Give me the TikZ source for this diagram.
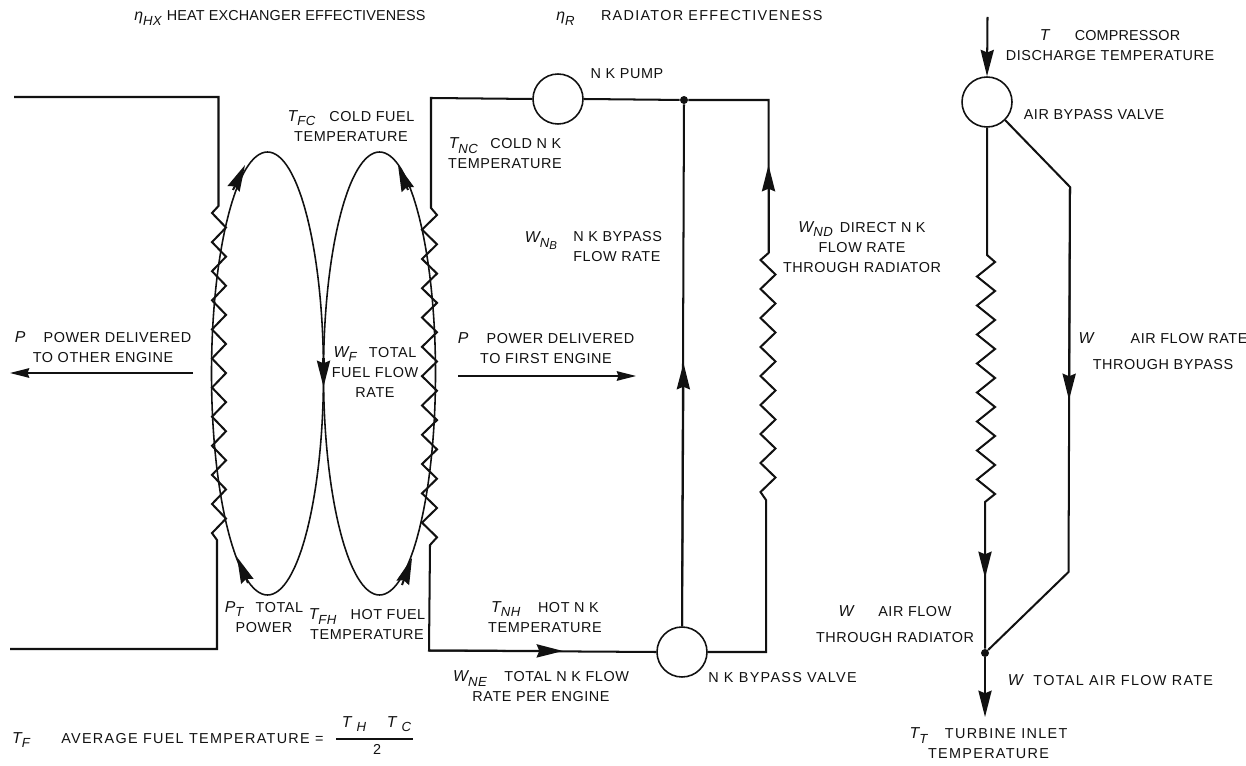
\documentclass[tikz,border=0pt]{standalone}
\usepackage{fontspec}
\setmainfont{Liberation Sans}[LetterSpace=4]
\usetikzlibrary{arrows.meta}
\newcommand{\labfont}{\fontsize{8.2}{11.4}\selectfont}
\newcommand{\symb}[2]{\textit{\fontsize{9}{11}\selectfont #1\raisebox{-0.5ex}{\fontsize{7.5}{8}\selectfont #2}}}
\definecolor{inkline}{HTML}{111111}

\begin{document}
\begin{tikzpicture}[
  x=0.02cm, y=-0.02cm,
  wire/.style={line width=1.15pt, draw=inkline, line join=miter},
  flow/.style={wire, -{Stealth[length=15pt, width=7.5pt, inset=1.5pt]}},
  power/.style={line width=0.7pt, draw=inkline, -{Stealth[length=11pt, width=5.5pt, inset=1pt]}},
  valve/.style={circle, draw=inkline, line width=0.9pt, minimum size=1cm, inner sep=0pt},
  junction/.style={circle, fill=inkline, minimum size=0.16cm, inner sep=0pt},
  lab/.style={inner sep=0pt, align=center, font=\labfont, text=inkline},
  widelab/.style={lab, font=\labfont\addfontfeature{LetterSpace=9}},
  narrowlab/.style={lab, font=\labfont\addfontfeature{LetterSpace=1}},
]
\useasboundingbox (0,0) rectangle (1246,766);

% Heat exchanger walls and coils
\coordinate (wallTL) at (14,97);
\coordinate (wallLT) at (218.5,97);
\coordinate (wallLB) at (217,649);
\coordinate (wallBL) at (10,649);
\coordinate (coilLT) at (218.5,206);
\coordinate (coilLB) at (217,540);
\draw[wire] (wallTL) -- (wallLT) -- (coilLT) -- ++(-6.5,7)
  \foreach \k in {1,...,11} { -- ++(14,14.55) -- ++(-14,14.55) }
  -- (coilLB) -- (wallLB) -- (wallBL);

% Fuel loops
\coordinate (loopL) at (267.5,373.5);
\coordinate (loopR) at (379.5,373.5);
\draw[wire, line width=0.9pt] (loopL) ellipse [x radius=56, y radius=221.5];
\draw[wire, line width=0.9pt] (loopR) ellipse [x radius=56, y radius=221.5];
\coordinate (fuelA) at (233,190);
\coordinate (fuelAtip) at (245,165);
\coordinate (fuelB) at (408,190);
\coordinate (fuelBtip) at (398,165);
\coordinate (fuelC) at (323.5,358);
\coordinate (fuelCtip) at (323.5,387);
\coordinate (fuelD) at (248,583);
\coordinate (fuelDtip) at (237,557);
\coordinate (fuelE) at (402,585);
\coordinate (fuelEtip) at (412,558);
\draw[flow] (fuelA) -- (fuelAtip);
\draw[flow] (fuelB) -- (fuelBtip);
\draw[flow] (fuelC) -- (fuelCtip);
\draw[flow] (fuelD) -- (fuelDtip);
\draw[flow] (fuelE) -- (fuelEtip);

% N K loop
\node[valve] (pump) at (558,99) {};
\node[valve] (nkvalve) at (682,652) {};
\node[junction] (nkjoin) at (684,100) {};
\coordinate (nkTL) at (431,98);
\coordinate (nkTR) at (768.5,100);
\coordinate (nkBL) at (429,650.5);
\coordinate (nkBR) at (766,652);
\coordinate (coilRT) at (431,208);
\coordinate (coilRB) at (430,545);
\coordinate (radT) at (768.5,253);
\coordinate (radB) at (766,500);
\coordinate (nkflow) at (563,651);
\coordinate (nkbypass) at (683.5,363);
\coordinate (nkdirect) at (768.5,165);
\draw[wire] (pump.west) -- (nkTL) -- (coilRT) -- ++(6,7)
  \foreach \k in {1,...,11} { -- ++(-15,14.65) -- ++(15,14.65) }
  -- (coilRB) -- (nkBL) -- (nkvalve.west);
\draw[flow] (nkBL) -- (nkflow);
\draw[wire] (nkvalve.north) -- (nkjoin);
\draw[flow] (nkvalve.north) -- (nkbypass);
\draw[wire] (pump.east) -- (nkjoin) -- (nkTR) -- (radT) -- ++(-8,7)
  \foreach \k in {1,...,8} { -- ++(15,14.5) -- ++(-15,14.5) }
  -- (radB) -- (nkBR) -- (nkvalve.east);
\draw[flow] (radT) -- (nkdirect);

% Air side
\node[valve] (airvalve) at (987,102) {};
\node[junction] (airjoin) at (985,653) {};
\coordinate (airin) at (987.5,17);
\coordinate (airT) at (987,255);
\coordinate (airB) at (985,502);
\coordinate (airflow) at (985,578);
\coordinate (airout) at (985,717);
\coordinate (byT) at (1070,187);
\coordinate (byB) at (1068.5,572);
\coordinate (byflow) at (1069,400);
\draw[flow] (airin) -- (airvalve.north);
\draw[wire] (airvalve.south) -- (airT) -- ++(8,7)
  \foreach \k in {1,...,8} { -- ++(-18,14.5) -- ++(18,14.5) }
  -- (airB) -- (airjoin);
\draw[flow] (airB) -- (airflow);
\draw[flow] (airjoin) -- (airout);
\draw[wire] (airvalve.-45) -- (byT) -- (byB) -- (airjoin);
\draw[flow] (byT) -- (byflow);

% Power arrows
\coordinate (powLa) at (193,373);
\coordinate (powLb) at (10,373);
\coordinate (powRa) at (458,376);
\coordinate (powRb) at (636,376);
\draw[power] (powLa) -- (powLb);
\draw[power] (powRa) -- (powRb);

% Labels along the top
\node[narrowlab, anchor=west] (etahx) at (134,18) {\symb{η}{HX}\hspace{3pt}HEAT EXCHANGER EFFECTIVENESS};
\node[widelab, anchor=west] (etar) at (556,18) {\symb{η}{R}\hspace{15pt}RADIATOR EFFECTIVENESS};

% Labels on the heat exchanger
\node[lab] (tfc) at (351,126) {\symb{T}{FC}\hspace{8pt}COLD FUEL\\TEMPERATURE};
\node[lab] (powleft) at (103,347) {\textit{\fontsize{9}{11}\selectfont P}\hspace{10pt}POWER DELIVERED\\TO OTHER ENGINE};
\node[lab] (wf) at (375,372) {\symb{W}{F}\hspace{7pt}TOTAL\\FUEL FLOW\\RATE};
\node[lab] (ptotal) at (264,617) {\symb{P}{T}\hspace{7pt}TOTAL\\POWER};
\node[lab] (tfh) at (367,624.5) {\symb{T}{FH}\hspace{8pt}HOT FUEL\\TEMPERATURE};

% Labels on the N K loop
\node[lab] (pumplab) at (627,74) {N K PUMP};
\node[lab] (tnc) at (505,153.5) {\symb{T}{NC}\hspace{7pt}COLD N K\\TEMPERATURE};
\node[lab] (wnb) at (541,241) {\textit{\fontsize{9}{11}\selectfont W\raisebox{-0.5ex}{\fontsize{7.5}{8}\selectfont N\raisebox{-0.4ex}{\fontsize{6.5}{7}\selectfont B}}}};
\node[lab, align=left, anchor=west] (wnbtext) at (573,246.5) {N K BYPASS\\FLOW RATE};
\node[lab] (wnd) at (862,247) {\symb{W}{ND}\hspace{4pt}DIRECT N K\\FLOW RATE\\THROUGH RADIATOR};
\node[lab] (powright) at (546,348.5) {\textit{\fontsize{9}{11}\selectfont P}\hspace{10pt}POWER DELIVERED\\TO FIRST ENGINE};
\node[lab] (tnh) at (545,617) {\symb{T}{NH}\hspace{10pt}HOT N K\\TEMPERATURE};
\node[lab] (wne) at (541,686.5) {\symb{W}{NE}\hspace{10pt}TOTAL N K FLOW\\RATE PER ENGINE};
\node[widelab] (vallab) at (782.5,678) {N K BYPASS VALVE};

% Labels on the air side
\node[lab] (tcomp) at (1110,45.5) {\textit{\fontsize{9}{11}\selectfont T}\hspace{13.5pt}{\addfontfeature{LetterSpace=1}COMPRESSOR}\hspace{10pt}\\DISCHARGE TEMPERATURE};
\node[lab] (airvallab) at (1094,115) {AIR BYPASS VALVE};
\node[lab] (wby) at (1163,351) {\textit{\fontsize{9}{11}\selectfont W}\hspace{20pt}AIR FLOW RATE\\[3.5pt]THROUGH BYPASS};
\node[lab] (wrad) at (895,624.5) {\textit{\fontsize{9}{11}\selectfont W}\hspace{13pt}AIR FLOW\\[3.5pt]THROUGH RADIATOR};
\node[widelab] (wtot) at (1110.5,680) {\textit{\fontsize{9}{11}\selectfont W}\hspace{4.5pt}TOTAL AIR FLOW RATE};
\node[widelab] (tturb) at (988.5,743.5) {\symb{T}{T}\hspace{10pt}TURBINE INLET\\TEMPERATURE};

% Average temperature formula
\node[lab] (tf) at (21,740) {\symb{T}{F}};
\node[widelab, anchor=west] (avg) at (61,739) {AVERAGE FUEL TEMPERATURE\hspace{3pt}=};
\coordinate (fracL) at (336,739);
\coordinate (fracR) at (413,739);
\draw[line width=0.6pt, draw=inkline] (fracL) -- (fracR);
\node[lab] (fracH) at (354,724) {\textit{\fontsize{9}{11}\selectfont T\hspace{3pt}\raisebox{-0.5ex}{\fontsize{7.5}{8}\selectfont H}}};
\node[lab] (fracC) at (399,724) {\textit{\fontsize{9}{11}\selectfont T\hspace{3pt}\raisebox{-0.5ex}{\fontsize{7.5}{8}\selectfont C}}};
\node[lab] (fractwo) at (377,749) {2};

\end{tikzpicture}
\end{document}
